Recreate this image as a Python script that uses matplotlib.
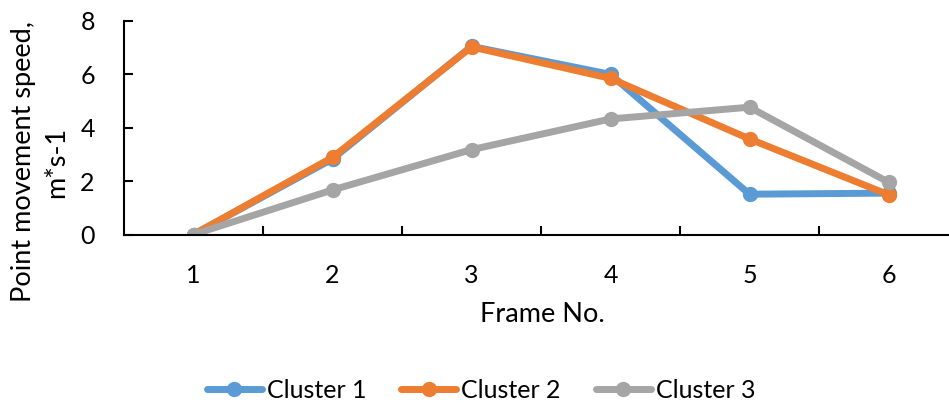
import matplotlib.pyplot as plt
import numpy as np

frames = ['1', '2', '3', '4', '5', '6']
cluster1 = [0, 2.83, 7.05, 6.0, 1.51, 1.55]
cluster2 = [0, 2.89, 7.03, 5.85, 3.58, 1.49]
cluster3 = [0, 1.67, 3.18, 4.33, 4.77, 1.96]

plt.rcParams['font.family'] = ['Lato', 'DejaVu Sans']

fig = plt.figure(figsize=(9.49, 4.05), dpi=100)
ax = fig.add_axes([124/949, 170.5/405, 834/949, 213.5/405])

x = np.arange(len(frames))
ax.plot(x, cluster1, color='#5B9BD5', lw=5, marker='o', ms=10, label='Cluster 1', solid_capstyle='round')
ax.plot(x, cluster2, color='#ED7D31', lw=5, marker='o', ms=10, label='Cluster 2', solid_capstyle='round')
ax.plot(x, cluster3, color='#A5A5A5', lw=5, marker='o', ms=10, label='Cluster 3', solid_capstyle='round')

ax.set_xlim(-0.5, 5.5)
ax.set_ylim(0, 8)
ax.set_yticks([0, 2, 4, 6, 8])
ax.set_xticks(x)
ax.set_xticklabels(frames)
ax.set_xticks(np.arange(0.5, 5.5, 1), minor=True)

for s in ['top', 'right']:
    ax.spines[s].set_visible(False)
for s in ['left', 'bottom']:
    ax.spines[s].set_linewidth(1.5)
    ax.spines[s].set_color('black')

ax.tick_params(axis='y', direction='in', length=6.5, width=1.5, labelsize=18, pad=21)
ax.tick_params(axis='x', which='major', length=0, labelsize=18, pad=21)
ax.tick_params(axis='x', which='minor', direction='in', length=6.5, width=1.5)

# axis titles placed like the Excel original
fig.text(40/949, 1 - 162/405, 'Point movement speed,\nm*s-1', rotation=90,
         ha='center', va='center', fontsize=19.5, multialignment='center', linespacing=1.4)
fig.text(542/949, 1 - 315/405, 'Frame No.', ha='center', va='center', fontsize=19.5)

fig.legend(loc='center', bbox_to_anchor=(481/949, 1 - 390/405), ncol=3, frameon=False,
           fontsize=18, handlelength=2.2, handletextpad=0.2, columnspacing=1.4)

fig.savefig('out.png', dpi=100)
